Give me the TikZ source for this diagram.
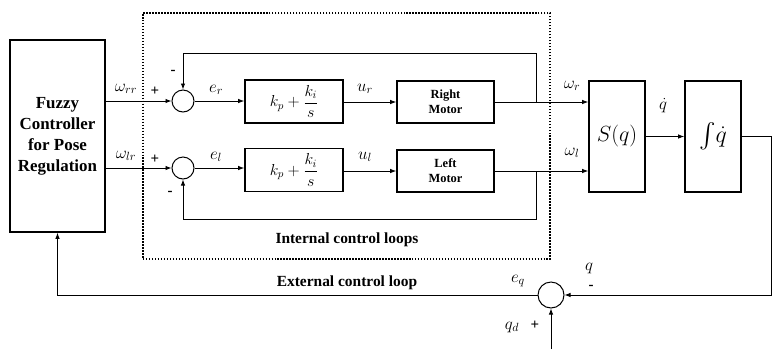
\RequirePackage{fix-cm}
\documentclass[tikz,border=0pt]{standalone}
\usepackage{amsmath}
\usepackage{fontspec}
\setmainfont{Liberation Serif}
\usetikzlibrary{arrows.meta, positioning, calc}

\begin{document}
\begin{tikzpicture}[x=1bp, y=-1bp, line width=0.9pt,
  blk/.style={rectangle, draw, line width=1.6pt, inner sep=0pt, align=center},
  sumj/.style={circle, draw, line width=1pt, minimum size=22bp, inner sep=0pt},
  sig/.style={font=\fontsize{17}{17}\selectfont, inner sep=1pt},
  sgn/.style={font=\bfseries\fontsize{15}{15}\selectfont, inner sep=0pt},
  looplbl/.style={font=\bfseries\fontsize{15.5}{18}\selectfont},
  >={Latex[length=6bp,width=4.5bp]}]
\useasboundingbox (0,0) rectangle (773,349);
% inner loops frame
\node[draw, dash pattern=on 1.5pt off 1.5pt, line width=1.6pt, minimum width=407bp, minimum height=246bp] (inner) at (346.5,136) {};
\node[looplbl] (innerlbl) at (347,240) {Internal control loops};
\node[looplbl] (outerlbl) at (347,283) {External control loop};
% blocks
\node[blk, minimum width=95bp, minimum height=192bp, font=\bfseries\fontsize{17}{21}\selectfont] (fuzzy) at (57.5,136) {Fuzzy\\Controller\\for Pose\\Regulation};
\node[sumj] (sumr) at (183,101) {};
\node[sumj] (suml) at (183,168) {};
\node[blk, minimum width=98bp, minimum height=43bp, font=\fontsize{16}{16}\selectfont] (pir) at (294,101.5) {$k_p+\dfrac{k_i}{s}$};
\node[blk, minimum width=98bp, minimum height=43bp, font=\fontsize{16}{16}\selectfont] (pil) at (294,170) {$k_p+\dfrac{k_i}{s}$};
\node[blk, minimum width=97bp, minimum height=42bp, font=\bfseries\fontsize{12.5}{15}\selectfont] (motr) at (445.5,102) {Right\\Motor};
\node[blk, minimum width=97bp, minimum height=42bp, font=\bfseries\fontsize{12.5}{15}\selectfont] (motl) at (445.5,171) {Left\\Motor};
\node[blk, minimum width=56bp, minimum height=111bp, font=\fontsize{22}{22}\selectfont] (sq) at (617,136.5) {$S(q)$};
\node[blk, minimum width=56bp, minimum height=111bp, font=\fontsize{24}{24}\selectfont] (int) at (713,136.5) {$\int\!\dot{q}$};
\node[sumj, minimum size=26bp] (sumq) at (551,295) {};
% points
\coordinate (tapr) at (536,101.5);
\coordinate (tapl) at (536,170);
\coordinate (topr) at (536,53);
\coordinate (botl) at (536,219);
\coordinate (outc) at (771.5,136.5);
\coordinate (qdin) at (551,349);
% connectors
\draw[->] (fuzzy.east |- sumr) -- (sumr);
\draw[->] (fuzzy.east |- suml) -- (suml);
\draw[->] (sumr) -- (sumr -| pir.west);
\draw[->] (suml) -- (suml -| pil.west);
\draw[->] (pir.east |- motr) -- (motr.west);
\draw[->] (pil.east |- motl) -- (motl.west);
\draw[->] (motr.east) -- (sq.west |- motr.east);
\draw[->] (motl.east) -- (sq.west |- motl.east);
\draw[->] (tapr |- motr.east) -- (topr) -| (sumr.north);
\draw[->] (tapl |- motl.east) -- (botl) -| (suml.south);
\draw[->] (sq) -- (int);
\draw[->] (int.east) -- (outc) |- (sumq.east);
\draw[->] (qdin) -- (sumq.south);
\draw[->] (sumq.west) -| (fuzzy.south);
% signal labels
\node[sig] (wrr) at (126,89) {$\omega_{rr}$};
\node[sig] (wlr) at (126,156) {$\omega_{lr}$};
\node[sgn] (pr) at (155,91) {+};
\node[sgn] (pl) at (155,159) {+};
\node[sgn] (mr) at (173,72) {-};
\node[sgn] (ml) at (170,193) {-};
\node[sig] (er) at (216,90) {$e_r$};
\node[sig] (el) at (216,157) {$e_l$};
\node[sig] (ur) at (365,89) {$u_r$};
\node[sig] (ul) at (365,157) {$u_l$};
\node[sig] (wr) at (572,86) {$\omega_r$};
\node[sig] (wl) at (572,153) {$\omega_l$};
\node[sig] (qdot) at (663,106) {$\dot{q}$};
\node[sig] (eq) at (518,281) {$e_q$};
\node[sig] (qfb) at (589,268) {$q$};
\node[sgn] (mq) at (591,287) {-};
\node[sig] (qd) at (512,327) {$q_d$};
\node[sgn] (pq) at (535,325) {+};
\end{tikzpicture}
\end{document}
